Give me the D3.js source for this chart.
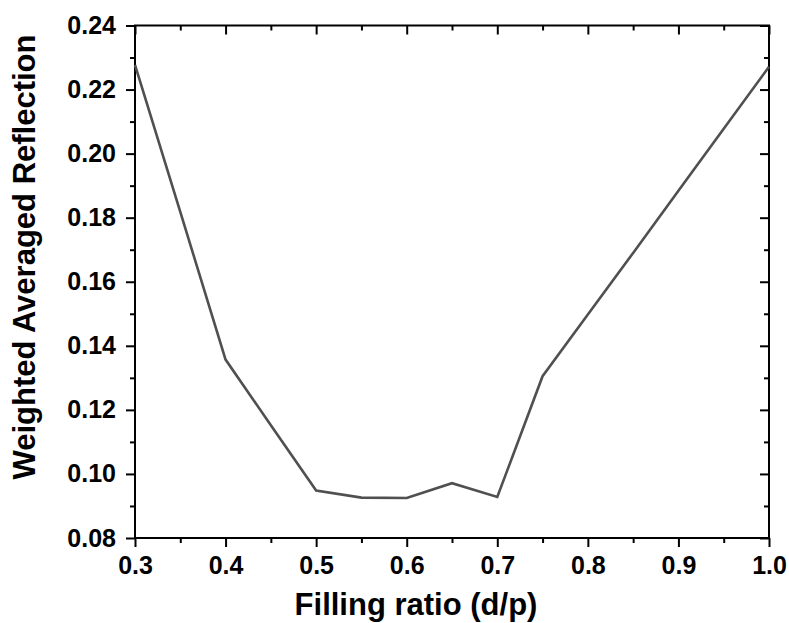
<!DOCTYPE html>
<html>
<head>
<meta charset="utf-8">
<script src="https://cdn.jsdelivr.net/npm/d3@7"></script>
<style>
  html, body { margin: 0; padding: 0; background: #fff; }
  svg { display: block; }
  text { font-family: "Liberation Sans", Arial, sans-serif; font-weight: bold; fill: #000; }
</style>
</head>
<body>
<svg id="chart" width="789" height="623"></svg>
<script>
// Data
const fillingRatio = [0.30, 0.35, 0.40, 0.45, 0.50, 0.55, 0.60, 0.65, 0.70, 0.75, 0.80, 0.85, 0.90, 0.95, 1.00];
const reflection   = [0.2277, 0.1818, 0.1357, 0.1152, 0.0948, 0.0926, 0.0925, 0.0971, 0.0928, 0.1305, 0.1498, 0.1690, 0.1884, 0.2078, 0.2271];
const xTicks = [0.3, 0.4, 0.5, 0.6, 0.7, 0.8, 0.9, 1.0];
const xMinorTicks = [0.35, 0.45, 0.55, 0.65, 0.75, 0.85, 0.95];
const yTicks = [0.08, 0.10, 0.12, 0.14, 0.16, 0.18, 0.20, 0.22, 0.24];
const yMinorTicks = [0.09, 0.11, 0.13, 0.15, 0.17, 0.19, 0.21, 0.23];
const xTitle = "Filling ratio (d/p)";
const yTitle = "Weighted Averaged Reflection";

(function () {
const svg = d3.select("#chart");
const mLeft = 135, mRight = 769, mTop = 25.5, mBottom = 538;
const x = d3.scaleLinear().domain([0.3, 1.0]).range([mLeft, mRight]);
const y = d3.scaleLinear().domain([0.08, 0.24]).range([mBottom, mTop]);

const major = 9, minor = 5;

function styleAxis(g) {
  g.selectAll(".domain").remove();
  g.selectAll("line").attr("stroke", "#000").attr("stroke-width", 2);
  g.selectAll("text").style("font-size", "25px").style("font-weight", "bold")
    .style("font-family", "'Liberation Sans', Arial, sans-serif").attr("fill", "#000");
}

// Bottom axis
svg.append("g").attr("transform", `translate(0,${mBottom})`)
  .call(d3.axisBottom(x).tickValues(xTicks).tickFormat(d3.format(".1f")).tickSizeInner(major).tickSizeOuter(0).tickPadding(9))
  .call(styleAxis);
svg.append("g").attr("transform", `translate(0,${mBottom})`)
  .call(d3.axisBottom(x).tickValues(xMinorTicks).tickFormat("").tickSizeInner(minor).tickSizeOuter(0))
  .call(styleAxis);

// Top axis (inward ticks)
svg.append("g").attr("transform", `translate(0,${mTop})`)
  .call(d3.axisBottom(x).tickValues(xTicks).tickFormat("").tickSizeInner(major).tickSizeOuter(0))
  .call(styleAxis);
svg.append("g").attr("transform", `translate(0,${mTop})`)
  .call(d3.axisBottom(x).tickValues(xMinorTicks).tickFormat("").tickSizeInner(minor).tickSizeOuter(0))
  .call(styleAxis);

// Left axis
svg.append("g").attr("transform", `translate(${mLeft},0)`)
  .call(d3.axisLeft(y).tickValues(yTicks).tickFormat(d3.format(".2f")).tickSizeInner(major).tickSizeOuter(0).tickPadding(10))
  .call(styleAxis);
svg.append("g").attr("transform", `translate(${mLeft},0)`)
  .call(d3.axisLeft(y).tickValues(yMinorTicks).tickFormat("").tickSizeInner(minor).tickSizeOuter(0))
  .call(styleAxis);

// Right axis (inward ticks)
svg.append("g").attr("transform", `translate(${mRight},0)`)
  .call(d3.axisLeft(y).tickValues(yTicks).tickFormat("").tickSizeInner(major).tickSizeOuter(0))
  .call(styleAxis);
svg.append("g").attr("transform", `translate(${mRight},0)`)
  .call(d3.axisLeft(y).tickValues(yMinorTicks).tickFormat("").tickSizeInner(minor).tickSizeOuter(0))
  .call(styleAxis);

// Frame
svg.append("rect").attr("x", mLeft).attr("y", mTop).attr("width", mRight - mLeft).attr("height", mBottom - mTop)
  .attr("fill", "none").attr("stroke", "#000").attr("stroke-width", 2);

// Line
const data = fillingRatio.map((d, i) => ({ x: d, y: reflection[i] }));
svg.append("path").datum(data)
  .attr("fill", "none").attr("stroke", "#505050").attr("stroke-width", 2.6)
  .attr("stroke-linejoin", "miter")
  .attr("d", d3.line().x(d => x(d.x)).y(d => y(d.y)));

// Titles
svg.append("text").attr("x", 416).attr("y", 615).attr("text-anchor", "middle")
  .style("font-size", "31px").text(xTitle);
svg.append("text").attr("transform", `translate(35,257) rotate(-90)`).attr("text-anchor", "middle")
  .style("font-size", "31px").text(yTitle);
})();
</script>
</body>
</html>
